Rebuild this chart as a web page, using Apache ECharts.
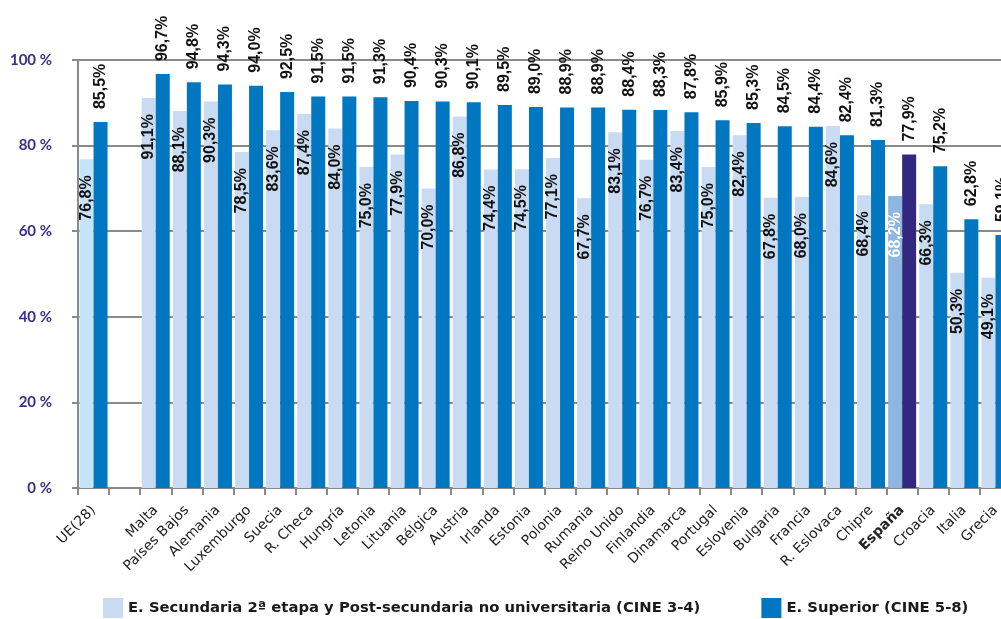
<!DOCTYPE html>
<html>
<head>
<meta charset="utf-8">
<script src="https://cdn.jsdelivr.net/npm/echarts@6/dist/echarts.min.js"></script>
<style>
html,body{margin:0;padding:0;background:#fff;overflow:hidden;width:1001px;height:619px;}
#c{width:1011px;height:619px;}
</style>
</head>
<body>
<div id="c"></div>
<script>
const categories = ["UE(28)", "", "Malta", "Países Bajos", "Alemania", "Luxemburgo", "Suecia", "R. Checa", "Hungría", "Letonia", "Lituania", "Bélgica", "Austria", "Irlanda", "Estonia", "Polonia", "Rumania", "Reino Unido", "Finlandia", "Dinamarca", "Portugal", "Eslovenia", "Bulgaria", "Francia", "R. Eslovaca", "Chipre", "España", "Croacia", "Italia", "Grecia"];
const secundaria = [76.8, null, 91.1, 88.1, 90.3, 78.5, 83.6, 87.4, 84.0, 75.0, 77.9, 70.0, 86.8, 74.4, 74.5, 77.1, 67.7, 83.1, 76.7, 83.4, 75.0, 82.4, 67.8, 68.0, 84.6, 68.4, 68.2, 66.3, 50.3, 49.1];
const superior = [85.5, null, 96.7, 94.8, 94.3, 94.0, 92.5, 91.5, 91.5, 91.3, 90.4, 90.3, 90.1, 89.5, 89.0, 88.9, 88.9, 88.4, 88.3, 87.8, 85.9, 85.3, 84.5, 84.4, 82.4, 81.3, 77.9, 75.2, 62.8, 59.1];
const yTicks = [0, 20, 40, 60, 80, 100];
const seriesNames = ["E. Secundaria 2ª etapa y Post-secundaria no universitaria (CINE 3-4)", "E. Superior (CINE 5-8)"];

const LIGHT = '#C9DBF2', LIGHT_UE = '#C6E4F8', LIGHT_ES = '#8DB6E1';
const DARK = '#0077C0', DARK_ES = '#33287F';
const fmt = v => v.toFixed(1).replace('.', ',') + '%';
const LABEL_FONT = '"Liberation Sans Narrow", "Liberation Sans", Arial, sans-serif';

const lightData = secundaria.map((v, i) => {
  const c = categories[i];
  const o = { value: v };
  if (c === 'UE(28)') o.itemStyle = { color: LIGHT_UE };
  if (c === 'España') { o.itemStyle = { color: LIGHT_ES }; o.label = { color: '#ffffff' }; }
  return o;
});
const darkData = superior.map((v, i) => {
  const o = { value: v };
  if (categories[i] === 'España') o.itemStyle = { color: DARK_ES };
  return o;
});

const chart = echarts.init(document.getElementById('c'), null, { renderer: 'canvas' });
chart.setOption({
  animation: false,
  backgroundColor: '#ffffff',
  grid: { left: 78, right: 0, top: 60, height: 428, containLabel: false },
  legend: {
    left: 103, top: 598, padding: 0,
    itemWidth: 20, itemHeight: 20, itemGap: 61,
    icon: 'rect',
    textStyle: { fontFamily: '"DejaVu Sans", sans-serif', fontWeight: 'bold', fontSize: 14.8, color: '#1a1a1a', padding: [3, 0, 0, 0] },
    data: seriesNames
  },
  xAxis: {
    type: 'category',
    data: categories,
    boundaryGap: true,
    axisLine: { lineStyle: { color: '#8a8a8a', width: 2 } },
    axisTick: { show: true, length: 7, lineStyle: { color: '#8a8a8a', width: 2 } },
    axisLabel: {
      interval: 0, rotate: 45, margin: 20,
      fontFamily: '"DejaVu Sans", sans-serif', fontSize: 14, color: '#222',
      formatter: v => v === 'España' ? '{b|' + v + '}' : v,
      rich: { b: { fontWeight: 'bold', fontFamily: '"DejaVu Sans", sans-serif', fontSize: 14, color: '#222' } }
    }
  },
  yAxis: {
    type: 'value',
    min: 0, max: 100, interval: 20,
    axisLine: { show: true, lineStyle: { color: '#8a8a8a', width: 2 } },
    axisTick: { show: true, length: 6, lineStyle: { color: '#8a8a8a', width: 2 } },
    splitLine: { show: true, lineStyle: { color: '#8a8a8a', width: 2 } },
    axisLabel: {
      margin: 26, fontFamily: 'Lato, sans-serif', fontWeight: 'bold', fontSize: 15, color: '#3B2E8C',
      formatter: v => yTicks.includes(v) ? v + ' %' : ''
    }
  },
  series: [
    {
      name: seriesNames[0], type: 'bar', data: lightData,
      itemStyle: { color: LIGHT },
      barGap: '0%', barCategoryGap: '10%',
      label: {
        show: true, position: 'insideTop', rotate: 90, align: 'right', verticalAlign: 'middle',
        distance: 17, offset: [1, 0],
        fontFamily: LABEL_FONT, fontWeight: 'bold', fontSize: 16, color: '#111',
        formatter: p => p.value == null ? '' : fmt(p.value)
      }
    },
    {
      name: seriesNames[1], type: 'bar', data: darkData,
      itemStyle: { color: DARK },
      barGap: '0%', barCategoryGap: '10%',
      label: {
        show: true, position: 'top', rotate: 90, align: 'left', verticalAlign: 'middle',
        distance: 13,
        fontFamily: LABEL_FONT, fontWeight: 'bold', fontSize: 16, color: '#111',
        formatter: p => p.value == null ? '' : fmt(p.value)
      }
    }
  ]
});
</script>
</body>
</html>
